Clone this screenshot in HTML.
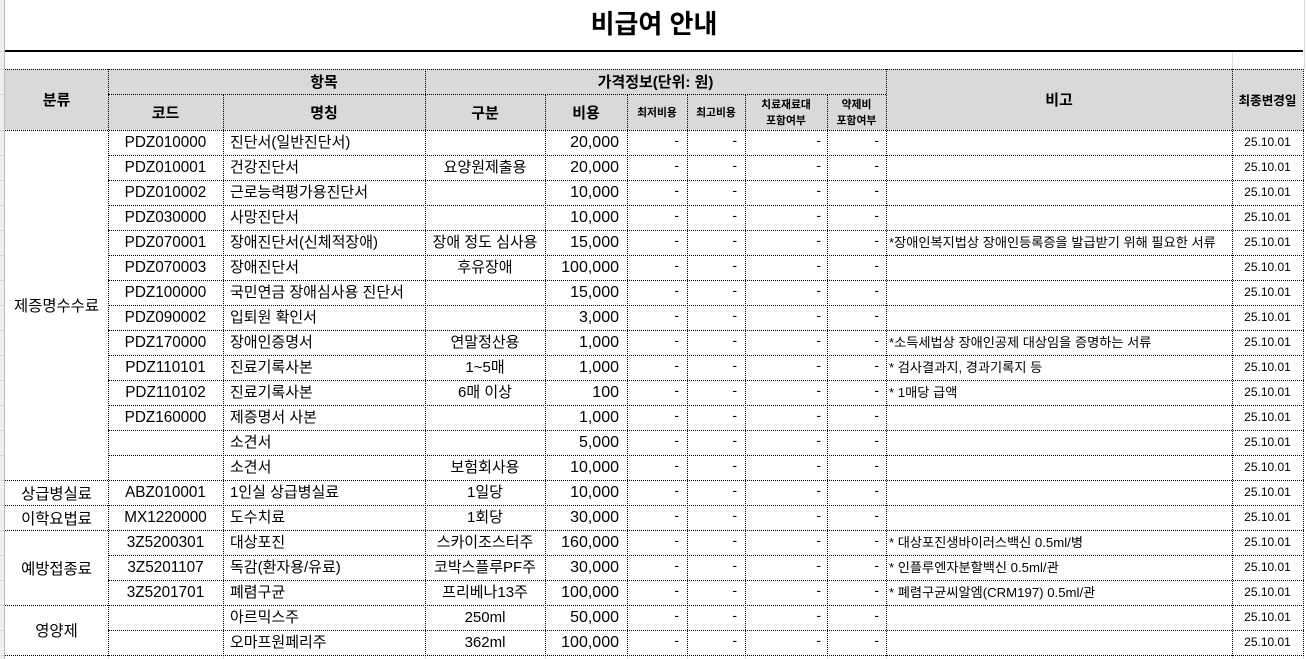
<!DOCTYPE html>
<html><head><meta charset="utf-8">
<style>
*{margin:0;padding:0;box-sizing:border-box}
body{width:1306px;height:659px;overflow:hidden;background:#fff;position:relative;font-family:"Liberation Sans","Noto Sans CJK KR",sans-serif;color:#000}
.a{position:absolute}
.h{position:absolute;height:0;border-top:1px dotted #000}
.v{position:absolute;width:0;border-left:1px dotted #000}
.g{position:absolute;background:#d4d4d4}
.r{position:absolute;left:0;width:1306px;height:25px}
.r div{position:absolute;top:0;height:25px;line-height:25px;white-space:nowrap}
.c1{left:108px;width:115px;text-align:center;font-size:15.3px}
.c2{left:230px;font-size:15px}
.c3{left:425px;width:120px;text-align:center;font-size:15px}
.c4{left:545px;width:74px;text-align:right;font-size:16px}
.r .d{font-size:14px;text-align:right;top:-2px}
.d5{left:627px;width:52px}
.d6{left:687px;width:50px}
.d7{left:745px;width:76px}
.d8{left:827px;width:52px}
.c9{left:889px;font-size:13.2px}
.c10{left:1232px;width:71px;text-align:center;font-size:12px}
.hd{position:absolute;font-weight:bold;text-align:center;display:flex;align-items:center;justify-content:center;white-space:nowrap}
.cat{position:absolute;left:5px;width:103px;text-align:center;font-size:15.4px;display:flex;align-items:center;justify-content:center}
</style></head><body>
<!-- left gutter -->
<div class="a" style="left:0;top:0;width:4px;height:659px;background:#efefef"></div>
<div class="a" style="left:4px;top:0;width:1px;height:659px;background:#bdbdbd"></div>
<div class="g" style="left:0;top:51px;width:4px;height:1px"></div>
<div class="g" style="left:0;top:69px;width:4px;height:1px"></div>
<div class="g" style="left:0;top:94px;width:4px;height:1px"></div>
<div class="g" style="left:0;top:130px;width:4px;height:1px"></div>
<div class="g" style="left:0;top:155px;width:4px;height:1px"></div>
<div class="g" style="left:0;top:180px;width:4px;height:1px"></div>
<div class="g" style="left:0;top:205px;width:4px;height:1px"></div>
<div class="g" style="left:0;top:230px;width:4px;height:1px"></div>
<div class="g" style="left:0;top:255px;width:4px;height:1px"></div>
<div class="g" style="left:0;top:280px;width:4px;height:1px"></div>
<div class="g" style="left:0;top:305px;width:4px;height:1px"></div>
<div class="g" style="left:0;top:330px;width:4px;height:1px"></div>
<div class="g" style="left:0;top:355px;width:4px;height:1px"></div>
<div class="g" style="left:0;top:380px;width:4px;height:1px"></div>
<div class="g" style="left:0;top:405px;width:4px;height:1px"></div>
<div class="g" style="left:0;top:430px;width:4px;height:1px"></div>
<div class="g" style="left:0;top:455px;width:4px;height:1px"></div>
<div class="g" style="left:0;top:480px;width:4px;height:1px"></div>
<div class="g" style="left:0;top:505px;width:4px;height:1px"></div>
<div class="g" style="left:0;top:530px;width:4px;height:1px"></div>
<div class="g" style="left:0;top:555px;width:4px;height:1px"></div>
<div class="g" style="left:0;top:580px;width:4px;height:1px"></div>
<div class="g" style="left:0;top:605px;width:4px;height:1px"></div>
<div class="g" style="left:0;top:630px;width:4px;height:1px"></div>
<div class="g" style="left:0;top:655px;width:4px;height:1px"></div>
<!-- gridlines -->
<div class="g" style="left:1304px;top:0;width:1px;height:69px;background:#dcdcdc"></div>
<div class="g" style="left:1232px;top:52px;width:1px;height:17px;background:#dcdcdc"></div>
<div class="g" style="left:108px;top:656px;width:1px;height:3px;background:#dcdcdc"></div>
<div class="g" style="left:223px;top:656px;width:1px;height:3px;background:#dcdcdc"></div>
<div class="g" style="left:425px;top:656px;width:1px;height:3px;background:#dcdcdc"></div>
<div class="g" style="left:545px;top:656px;width:1px;height:3px;background:#dcdcdc"></div>
<div class="g" style="left:627px;top:656px;width:1px;height:3px;background:#dcdcdc"></div>
<div class="g" style="left:687px;top:656px;width:1px;height:3px;background:#dcdcdc"></div>
<div class="g" style="left:745px;top:656px;width:1px;height:3px;background:#dcdcdc"></div>
<div class="g" style="left:827px;top:656px;width:1px;height:3px;background:#dcdcdc"></div>
<div class="g" style="left:886px;top:656px;width:1px;height:3px;background:#dcdcdc"></div>
<div class="g" style="left:1232px;top:656px;width:1px;height:3px;background:#dcdcdc"></div>
<div class="g" style="left:1303px;top:656px;width:1px;height:3px;background:#dcdcdc"></div>

<!-- title -->
<div class="a" style="left:5px;top:0;width:1298px;height:50px;line-height:48px;text-align:center;font-size:26px;font-weight:bold">비급여 안내</div>
<div class="a" style="left:5px;top:50px;width:1298px;height:2px;background:#000"></div>

<!-- header bg -->
<div class="a" style="left:5px;top:69px;width:1298px;height:61px;background:#d9d9d9"></div>

<!-- header text -->
<div class="hd" style="left:5px;top:69px;width:103px;height:61px;font-size:15px">분류</div>
<div class="hd" style="left:223px;top:69px;width:202px;height:25px;font-size:15px">항목</div>
<div class="hd" style="left:425px;top:69px;width:461px;height:25px;font-size:15px">가격정보(단위: 원)</div>
<div class="hd" style="left:108px;top:94px;width:115px;height:36px;font-size:15px">코드</div>
<div class="hd" style="left:223px;top:94px;width:202px;height:36px;font-size:15px">명칭</div>
<div class="hd" style="left:425px;top:94px;width:120px;height:36px;font-size:15px">구분</div>
<div class="hd" style="left:545px;top:94px;width:82px;height:36px;font-size:15px">비용</div>
<div class="hd" style="left:627px;top:94px;width:60px;height:36px;font-size:10.8px">최저비용</div>
<div class="hd" style="left:687px;top:94px;width:58px;height:36px;font-size:10.8px">최고비용</div>
<div class="hd" style="left:745px;top:96px;width:82px;height:34px;font-size:10.8px;line-height:16px">치료재료대<br>포함여부</div>
<div class="hd" style="left:827px;top:96px;width:59px;height:34px;font-size:10.8px;line-height:16px">약제비<br>포함여부</div>
<div class="hd" style="left:886px;top:69px;width:346px;height:61px;font-size:15px">비고</div>
<div class="hd" style="left:1232px;top:69px;width:71px;height:61px;font-size:12.6px">최종변경일</div>

<!-- horizontal lines -->
<div class="h" style="left:5px;top:69px;width:1299px"></div>
<div class="h" style="left:108px;top:94px;width:778px"></div>
<div class="h" style="left:5px;top:130px;width:1299px"></div>
<div class="h" style="left:108px;top:155px;width:1196px"></div>
<div class="h" style="left:108px;top:180px;width:1196px"></div>
<div class="h" style="left:108px;top:205px;width:1196px"></div>
<div class="h" style="left:108px;top:230px;width:1196px"></div>
<div class="h" style="left:108px;top:255px;width:1196px"></div>
<div class="h" style="left:108px;top:280px;width:1196px"></div>
<div class="h" style="left:108px;top:305px;width:1196px"></div>
<div class="h" style="left:108px;top:330px;width:1196px"></div>
<div class="h" style="left:108px;top:355px;width:1196px"></div>
<div class="h" style="left:108px;top:380px;width:1196px"></div>
<div class="h" style="left:108px;top:405px;width:1196px"></div>
<div class="h" style="left:108px;top:430px;width:1196px"></div>
<div class="h" style="left:108px;top:455px;width:1196px"></div>
<div class="h" style="left:5px;top:480px;width:1299px"></div>
<div class="h" style="left:5px;top:505px;width:1299px"></div>
<div class="h" style="left:5px;top:530px;width:1299px"></div>
<div class="h" style="left:108px;top:555px;width:1196px"></div>
<div class="h" style="left:108px;top:580px;width:1196px"></div>
<div class="h" style="left:5px;top:605px;width:1299px"></div>
<div class="h" style="left:108px;top:630px;width:1196px"></div>
<div class="h" style="left:5px;top:655px;width:1299px"></div>

<!-- vertical lines -->
<div class="v" style="left:108px;top:69px;height:587px"></div>
<div class="v" style="left:223px;top:94px;height:562px"></div>
<div class="v" style="left:425px;top:69px;height:587px"></div>
<div class="v" style="left:545px;top:94px;height:562px"></div>
<div class="v" style="left:627px;top:94px;height:562px"></div>
<div class="v" style="left:687px;top:94px;height:562px"></div>
<div class="v" style="left:745px;top:94px;height:562px"></div>
<div class="v" style="left:827px;top:94px;height:562px"></div>
<div class="v" style="left:886px;top:69px;height:587px"></div>
<div class="v" style="left:1232px;top:69px;height:587px"></div>
<div class="v" style="left:1303px;top:69px;height:587px"></div>

<!-- categories -->
<div class="cat" style="top:130px;height:350px">제증명수수료</div>
<div class="cat" style="top:480px;height:25px">상급병실료</div>
<div class="cat" style="top:505px;height:25px">이학요법료</div>
<div class="cat" style="top:530px;height:75px">예방접종료</div>
<div class="cat" style="top:605px;height:50px">영양제</div>

<!-- rows -->
<div class="r" style="top:130px"><div class="c1">PDZ010000</div><div class="c2">진단서(일반진단서)</div><div class="c3"></div><div class="c4">20,000</div><div class="d d5">-</div><div class="d d6">-</div><div class="d d7">-</div><div class="d d8">-</div><div class="c10">25.10.01</div></div>
<div class="r" style="top:155px"><div class="c1">PDZ010001</div><div class="c2">건강진단서</div><div class="c3">요양원제출용</div><div class="c4">20,000</div><div class="d d5">-</div><div class="d d6">-</div><div class="d d7">-</div><div class="d d8">-</div><div class="c10">25.10.01</div></div>
<div class="r" style="top:180px"><div class="c1">PDZ010002</div><div class="c2">근로능력평가용진단서</div><div class="c3"></div><div class="c4">10,000</div><div class="d d5">-</div><div class="d d6">-</div><div class="d d7">-</div><div class="d d8">-</div><div class="c10">25.10.01</div></div>
<div class="r" style="top:205px"><div class="c1">PDZ030000</div><div class="c2">사망진단서</div><div class="c3"></div><div class="c4">10,000</div><div class="d d5">-</div><div class="d d6">-</div><div class="d d7">-</div><div class="d d8">-</div><div class="c10">25.10.01</div></div>
<div class="r" style="top:230px"><div class="c1">PDZ070001</div><div class="c2">장애진단서(신체적장애)</div><div class="c3">장애 정도 심사용</div><div class="c4">15,000</div><div class="d d5">-</div><div class="d d6">-</div><div class="d d7">-</div><div class="d d8">-</div><div class="c9">*장애인복지법상 장애인등록증을 발급받기 위해 필요한 서류</div><div class="c10">25.10.01</div></div>
<div class="r" style="top:255px"><div class="c1">PDZ070003</div><div class="c2">장애진단서</div><div class="c3">후유장애</div><div class="c4">100,000</div><div class="d d5">-</div><div class="d d6">-</div><div class="d d7">-</div><div class="d d8">-</div><div class="c10">25.10.01</div></div>
<div class="r" style="top:280px"><div class="c1">PDZ100000</div><div class="c2">국민연금 장애심사용 진단서</div><div class="c3"></div><div class="c4">15,000</div><div class="d d5">-</div><div class="d d6">-</div><div class="d d7">-</div><div class="d d8">-</div><div class="c10">25.10.01</div></div>
<div class="r" style="top:305px"><div class="c1">PDZ090002</div><div class="c2">입퇴원 확인서</div><div class="c3"></div><div class="c4">3,000</div><div class="d d5">-</div><div class="d d6">-</div><div class="d d7">-</div><div class="d d8">-</div><div class="c10">25.10.01</div></div>
<div class="r" style="top:330px"><div class="c1">PDZ170000</div><div class="c2">장애인증명서</div><div class="c3">연말정산용</div><div class="c4">1,000</div><div class="d d5">-</div><div class="d d6">-</div><div class="d d7">-</div><div class="d d8">-</div><div class="c9">*소득세법상 장애인공제 대상임을 증명하는 서류</div><div class="c10">25.10.01</div></div>
<div class="r" style="top:355px"><div class="c1">PDZ110101</div><div class="c2">진료기록사본</div><div class="c3">1~5매</div><div class="c4">1,000</div><div class="d d5">-</div><div class="d d6">-</div><div class="d d7">-</div><div class="d d8">-</div><div class="c9">* 검사결과지, 경과기록지 등</div><div class="c10">25.10.01</div></div>
<div class="r" style="top:380px"><div class="c1">PDZ110102</div><div class="c2">진료기록사본</div><div class="c3">6매 이상</div><div class="c4">100</div><div class="d d5">-</div><div class="d d6">-</div><div class="d d7">-</div><div class="d d8">-</div><div class="c9">* 1매당 급액</div><div class="c10">25.10.01</div></div>
<div class="r" style="top:405px"><div class="c1">PDZ160000</div><div class="c2">제증명서 사본</div><div class="c3"></div><div class="c4">1,000</div><div class="d d5">-</div><div class="d d6">-</div><div class="d d7">-</div><div class="d d8">-</div><div class="c10">25.10.01</div></div>
<div class="r" style="top:430px"><div class="c1"></div><div class="c2">소견서</div><div class="c3"></div><div class="c4">5,000</div><div class="d d5">-</div><div class="d d6">-</div><div class="d d7">-</div><div class="d d8">-</div><div class="c10">25.10.01</div></div>
<div class="r" style="top:455px"><div class="c1"></div><div class="c2">소견서</div><div class="c3">보험회사용</div><div class="c4">10,000</div><div class="d d5">-</div><div class="d d6">-</div><div class="d d7">-</div><div class="d d8">-</div><div class="c10">25.10.01</div></div>
<div class="r" style="top:480px"><div class="c1">ABZ010001</div><div class="c2">1인실 상급병실료</div><div class="c3">1일당</div><div class="c4">10,000</div><div class="d d5">-</div><div class="d d6">-</div><div class="d d7">-</div><div class="d d8">-</div><div class="c10">25.10.01</div></div>
<div class="r" style="top:505px"><div class="c1">MX1220000</div><div class="c2">도수치료</div><div class="c3">1회당</div><div class="c4">30,000</div><div class="d d5">-</div><div class="d d6">-</div><div class="d d7">-</div><div class="d d8">-</div><div class="c10">25.10.01</div></div>
<div class="r" style="top:530px"><div class="c1">3Z5200301</div><div class="c2">대상포진</div><div class="c3">스카이조스터주</div><div class="c4">160,000</div><div class="d d5">-</div><div class="d d6">-</div><div class="d d7">-</div><div class="d d8">-</div><div class="c9">* 대상포진생바이러스백신 0.5ml/병</div><div class="c10">25.10.01</div></div>
<div class="r" style="top:555px"><div class="c1">3Z5201107</div><div class="c2">독감(환자용/유료)</div><div class="c3">코박스플루PF주</div><div class="c4">30,000</div><div class="d d5">-</div><div class="d d6">-</div><div class="d d7">-</div><div class="d d8">-</div><div class="c9">* 인플루엔자분할백신 0.5ml/관</div><div class="c10">25.10.01</div></div>
<div class="r" style="top:580px"><div class="c1">3Z5201701</div><div class="c2">폐렴구균</div><div class="c3">프리베나13주</div><div class="c4">100,000</div><div class="d d5">-</div><div class="d d6">-</div><div class="d d7">-</div><div class="d d8">-</div><div class="c9">* 폐렴구균씨알엠(CRM197) 0.5ml/관</div><div class="c10">25.10.01</div></div>
<div class="r" style="top:605px"><div class="c1"></div><div class="c2">아르믹스주</div><div class="c3">250ml</div><div class="c4">50,000</div><div class="d d5">-</div><div class="d d6">-</div><div class="d d7">-</div><div class="d d8">-</div><div class="c10">25.10.01</div></div>
<div class="r" style="top:630px"><div class="c1"></div><div class="c2">오마프원페리주</div><div class="c3">362ml</div><div class="c4">100,000</div><div class="d d5">-</div><div class="d d6">-</div><div class="d d7">-</div><div class="d d8">-</div><div class="c10">25.10.01</div></div>
</body></html>
